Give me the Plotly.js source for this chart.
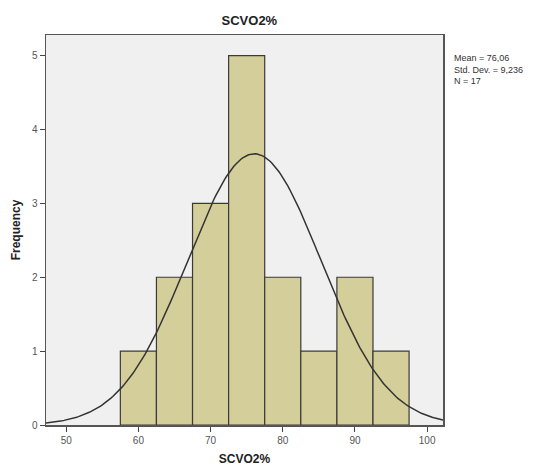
<!DOCTYPE html>
<html>
<head>
<meta charset="utf-8">
<script src="https://cdn.plot.ly/plotly-3.0.1.min.js"></script>
<style>html,body{margin:0;padding:0;background:#fff;}#chart{width:534px;height:466px;}</style>
</head>
<body>
<div id="chart"></div>
<script>
// Histogram bins (centers) and counts
const binCenters = [60, 65, 70, 75, 80, 85, 90, 95];
const counts = [1, 2, 3, 5, 2, 1, 2, 1];
const binWidth = 5;
// Stated statistics
const meanVal = 76.06;
const sdVal = 9.236;
const nVal = 17;
const xTicks = [50, 60, 70, 80, 90, 100];
const yTicks = [0, 1, 2, 3, 4, 5];

// Fitted normal curve from stated mean / std. dev. / N
const curveX = [], curveY = [];
for (let x = 47.2; x <= 102.2; x += 0.25) {
  curveX.push(x);
  const z = (x - meanVal) / sdVal;
  curveY.push(nVal * binWidth * Math.exp(-0.5 * z * z) / (sdVal * Math.sqrt(2 * Math.PI)));
}

const font = "Liberation Sans, Arial, sans-serif";
const data = [
  {type: 'bar', x: binCenters, y: counts, width: binWidth,
   marker: {color: '#d4cf9a', line: {color: '#3a3a3a', width: 1.2}}, hoverinfo: 'x+y'},
  {type: 'scatter', mode: 'lines', x: curveX, y: curveY,
   line: {color: '#333333', width: 1.5}, hoverinfo: 'skip'}
];
const layout = {
  width: 534, height: 466,
  margin: {l: 46, r: 91, t: 35, b: 41},
  paper_bgcolor: '#ffffff', plot_bgcolor: '#f0f0f0',
  showlegend: false, bargap: 0,
  font: {family: font, size: 10, color: '#333'},
  title: {text: '<b>SCVO2%</b>', font: {family: font, size: 13, color: '#222'},
          x: 0.467, xanchor: 'center', y: 0.957, yanchor: 'middle', yref: 'container'},
  xaxis: {range: [47.2, 102.2], tickvals: xTicks, ticks: 'outside', ticklen: 5,
          tickcolor: '#444', showgrid: false, zeroline: false, showline: true,
          linecolor: '#555', linewidth: 1.5, mirror: true,
          tickfont: {family: font, size: 10, color: '#555'},
          title: {text: '<b>SCVO2%</b>', font: {family: font, size: 12, color: '#222'}, standoff: 10}},
  yaxis: {range: [0, 5.28], tickvals: yTicks, ticks: 'outside', ticklen: 5,
          tickcolor: '#444', showgrid: false, zeroline: false, showline: true,
          linecolor: '#555', linewidth: 1.5, mirror: true,
          tickfont: {family: font, size: 10, color: '#555'},
          title: {text: '<b>Frequency</b>', font: {family: font, size: 12, color: '#222'}, standoff: 8}},
  annotations: [{
    text: 'Mean = 76,06<br>Std. Dev. = 9,236<br>N = 17',
    xref: 'paper', yref: 'paper', x: 1.022, y: 0.96, xanchor: 'left', yanchor: 'top',
    align: 'left', showarrow: false, font: {family: font, size: 9, color: '#333'}
  }]
};
Plotly.newPlot('chart', data, layout, {displayModeBar: false, staticPlot: true});
</script>
</body>
</html>
